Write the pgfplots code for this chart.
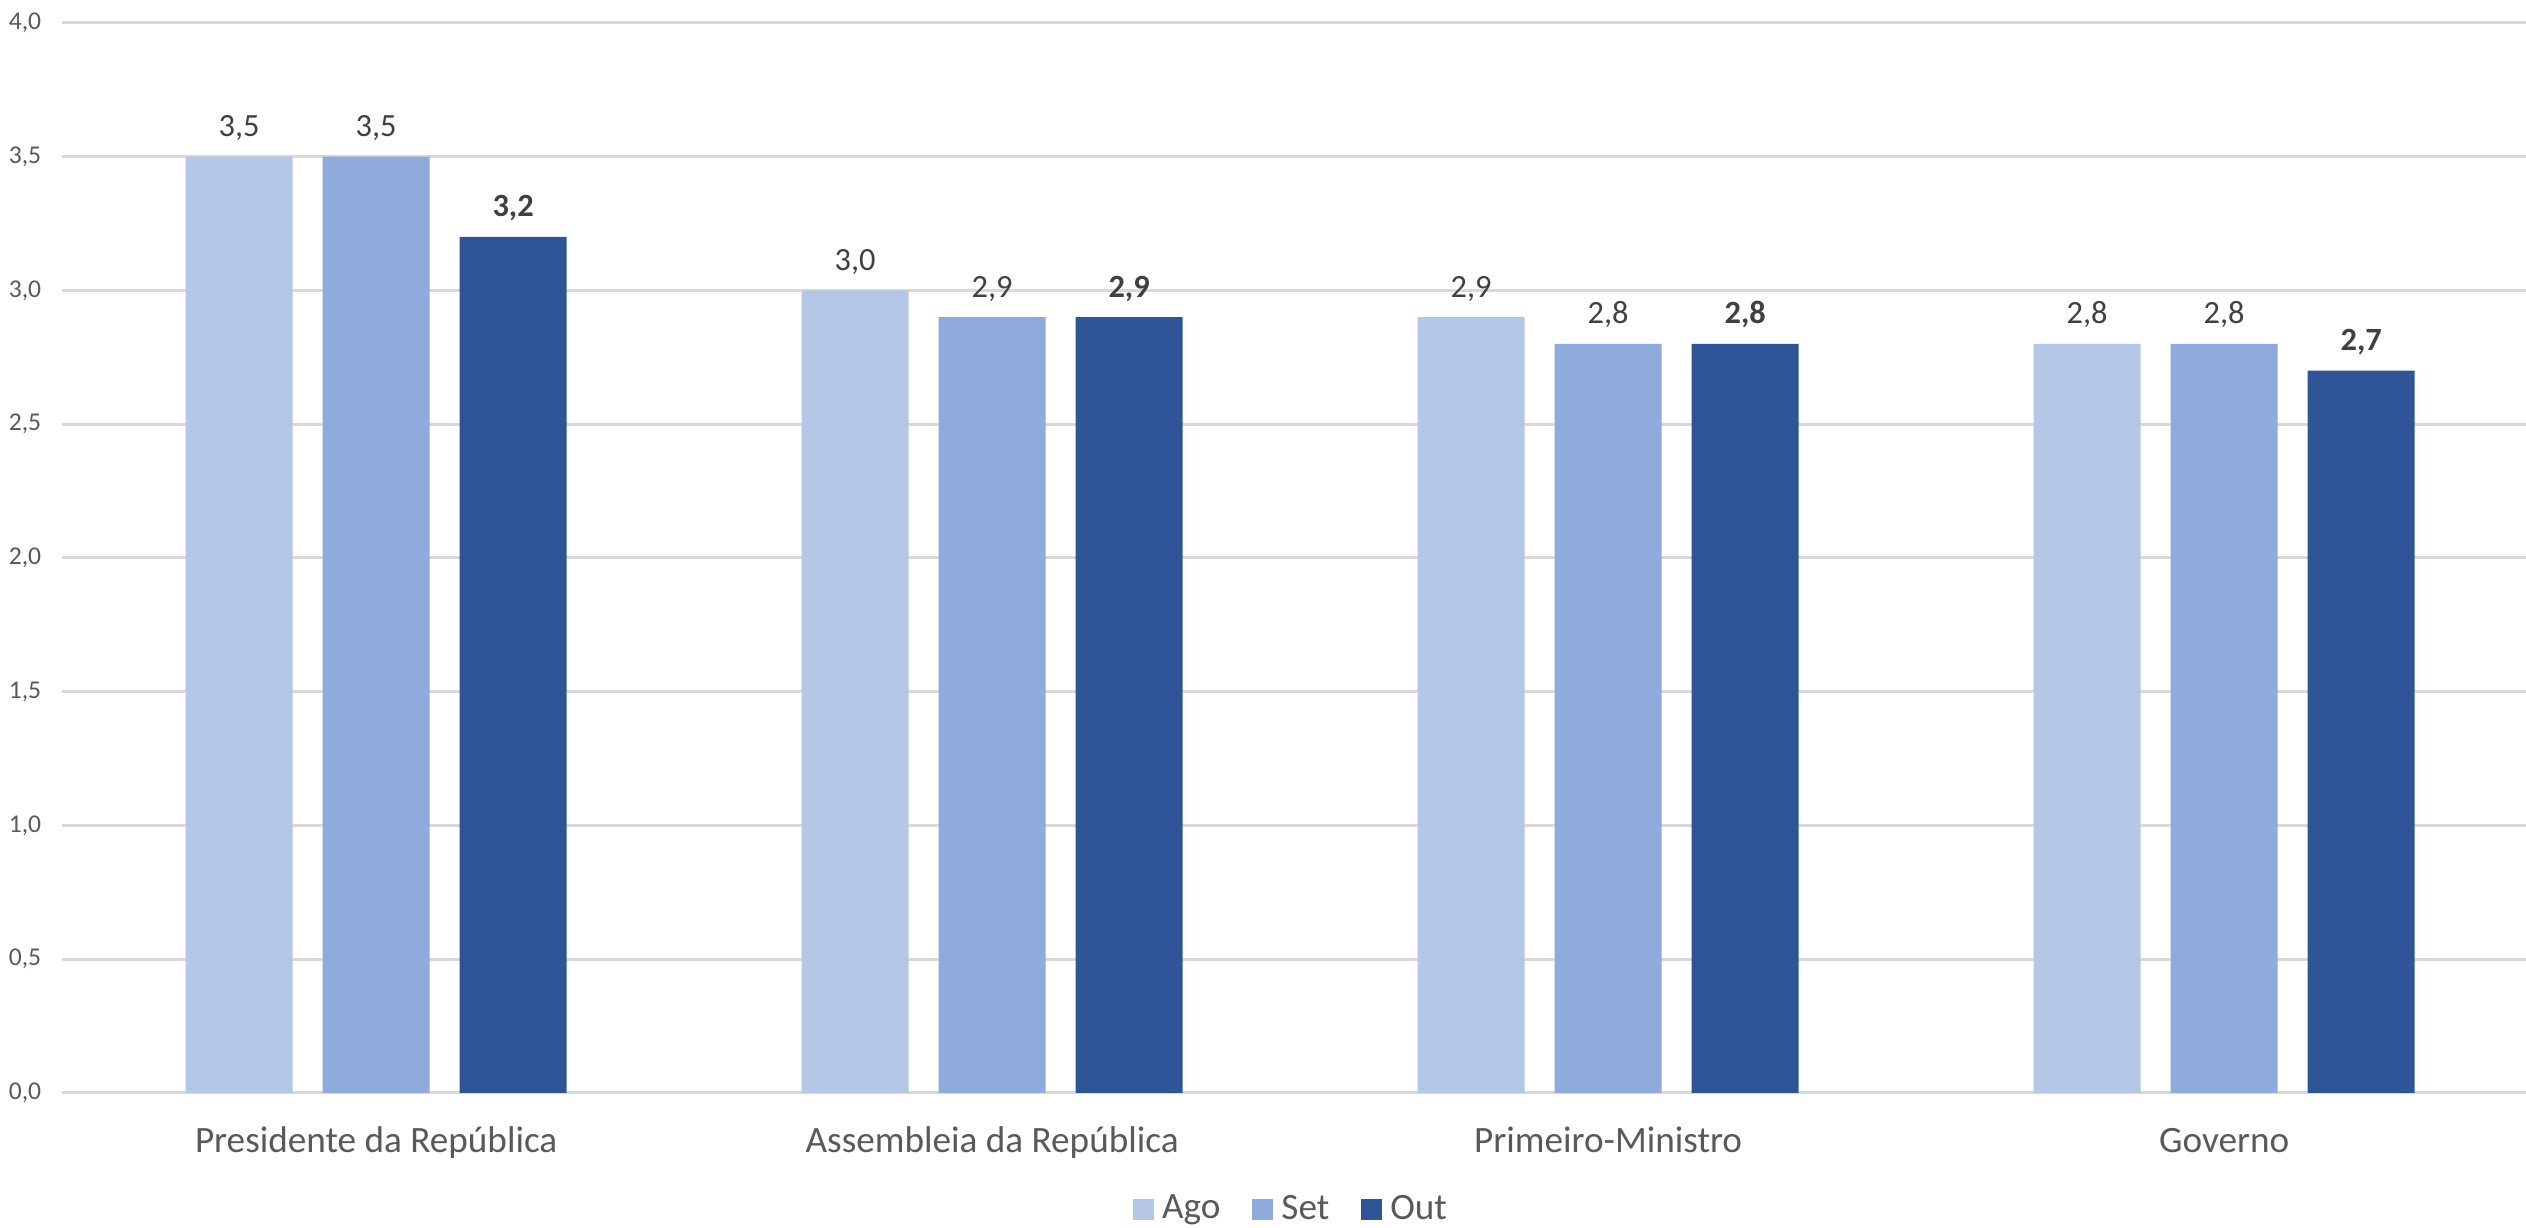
\documentclass[border=0pt]{standalone}
\usepackage{pgfplots}
\pgfplotsset{compat=1.18}
\usepackage{fontspec}
\setmainfont{Carlito}
\definecolor{cAgo}{HTML}{B4C7E7}
\definecolor{cSet}{HTML}{8FAADC}
\definecolor{cOut}{HTML}{2F5597}
\definecolor{gridc}{HTML}{D9D9D9}
\definecolor{tickc}{HTML}{595959}
\definecolor{labc}{HTML}{404040}
\begin{document}
\begin{tikzpicture}
\begin{axis}[
  at={(0pt,0pt)}, anchor=south west,
  scale only axis,
  width=616pt, height=267.5pt,
  xmin=-0.51, xmax=3.49,
  ymin=0, ymax=4,
  ytick={0,0.5,...,4},
  xtick={0,1,2,3},
  xticklabels={Presidente da República, Assembleia da República, Primeiro-Ministro, Governo},
  ybar=7.5pt,
  bar width=26.75pt,
  axis line style={draw=none},
  major tick length=0pt,
  ymajorgrids,
  major grid style={gridc, line width=0.75pt},
  /pgf/number format/assume math mode=true,
  yticklabel style={anchor=east, inner sep=0pt, xshift=-5pt, font=\fontsize{6.4}{7.5}\selectfont, text=tickc,
    /pgf/number format/fixed, /pgf/number format/fixed zerofill, /pgf/number format/precision=1, /pgf/number format/use comma},
  xticklabel style={anchor=base, inner sep=0pt, yshift=-15pt, font=\fontsize{9.3}{11}\selectfont, text=tickc},
  nodes near coords,
  nodes near coords style={anchor=base, inner sep=0pt, yshift=5pt, font=\fontsize{8.1}{9}\selectfont, text=labc,
    /pgf/number format/fixed, /pgf/number format/fixed zerofill, /pgf/number format/precision=1, /pgf/number format/use comma},
  legend style={at={(0.5,0)}, anchor=center, yshift=-29.25pt, draw=none, fill=none,
    font=\fontsize{9.3}{11}\selectfont, text=tickc, legend columns=3,
    /tikz/every even column/.append style={column sep=6pt}},
  legend image code/.code={\fill[#1, draw=none] (0pt,-2.6pt) rectangle (5.25pt,2.65pt);},
  legend cell align=left,
]
\addplot[fill=cAgo, draw=none] coordinates {(0,3.5) (1,3.0) (2,2.9) (3,2.8)};
\addplot[fill=cSet, draw=none] coordinates {(0,3.5) (1,2.9) (2,2.8) (3,2.8)};
\addplot[fill=cOut, draw=none, nodes near coords style={/tikz/font=\fontsize{8.1}{9}\selectfont\bfseries}] coordinates {(0,3.2) (1,2.9) (2,2.8) (3,2.7)};
\legend{Ago, Set, Out}
\end{axis}
\pgfresetboundingbox
\path (-15.5pt,-33.75pt) rectangle (616pt,273.25pt);
\end{tikzpicture}
\end{document}
